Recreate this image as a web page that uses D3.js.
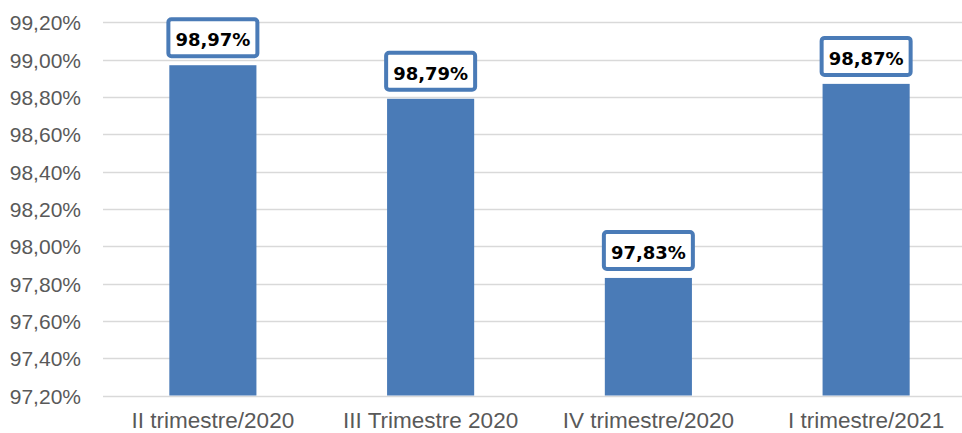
<!DOCTYPE html>
<html>
<head>
<meta charset="utf-8">
<script src="https://cdn.jsdelivr.net/npm/d3@7"></script>
<style>
  html, body { margin: 0; padding: 0; background: #fff; }
  svg { display: block; }
</style>
</head>
<body>
<svg id="chart" width="962" height="433"></svg>
<script>
// Quarterly percentages
const categories = ["II trimestre/2020", "III Trimestre 2020", "IV trimestre/2020", "I trimestre/2021"];
const values = [98.97, 98.79, 97.83, 98.87];
const yTicks = [97.2, 97.4, 97.6, 97.8, 98.0, 98.2, 98.4, 98.6, 98.8, 99.0, 99.2];

const W = 962, H = 433;
const margin = { left: 104, right: -13, top: 22, bottom: 37 };
const barColor = "#4a7bb7";
const textGray = "#595959";

const fmt = v => v.toFixed(2).replace(".", ",") + "%";

const svg = d3.select("#chart");

const x = d3.scaleBand()
  .domain(categories)
  .range([margin.left, W - margin.right])
  .paddingInner(0.6)
  .paddingOuter(0.3);

const y = d3.scaleLinear()
  .domain([97.2, 99.2])
  .range([H - margin.bottom - 0.5, margin.top + 0.3]);

// Horizontal gridlines
svg.append("g")
  .selectAll("line")
  .data(yTicks)
  .join("line")
  .attr("x1", 103)
  .attr("x2", W)
  .attr("y1", d => Math.round(y(d)) + 0.5)
  .attr("y2", d => Math.round(y(d)) + 0.5)
  .attr("stroke", "#d9d9d9")
  .attr("stroke-width", 1.3);

// Y axis labels
const yAxis = d3.axisLeft(y).tickValues(yTicks).tickFormat(fmt).tickSize(0).tickPadding(0);
svg.append("g")
  .attr("transform", "translate(81,0)")
  .call(yAxis)
  .call(g => g.select(".domain").remove())
  .call(g => g.selectAll("text")
    .attr("fill", textGray)
    .attr("font-family", "'Liberation Sans', Arial, sans-serif")
    .attr("font-size", "21px")
    .attr("dy", "0.36em"));

// Bars
svg.append("g")
  .selectAll("rect")
  .data(values)
  .join("rect")
  .attr("x", (d, i) => x(categories[i]))
  .attr("width", x.bandwidth())
  .attr("y", d => y(d))
  .attr("height", d => y(97.2) - y(d))
  .attr("fill", barColor);

// X axis labels
const xAxis = d3.axisBottom(x).tickSize(0).tickPadding(0);
svg.append("g")
  .attr("transform", `translate(0,${H - 5})`)
  .call(xAxis)
  .call(g => g.select(".domain").remove())
  .call(g => g.selectAll("text")
    .attr("fill", textGray)
    .attr("font-family", "'Liberation Sans', Arial, sans-serif")
    .attr("font-size", "22.5px")
    .attr("dy", "0"));

// Value labels in outlined boxes
const labels = svg.append("g")
  .selectAll("g")
  .data(values)
  .join("g")
  .attr("transform", (d, i) => `translate(${x(categories[i]) + x.bandwidth() / 2},${y(d)})`);

labels.append("rect")
  .attr("x", -44.5)
  .attr("y", -46)
  .attr("width", 89)
  .attr("height", 37)
  .attr("rx", 3)
  .attr("fill", "#fff")
  .attr("stroke", barColor)
  .attr("stroke-width", 4);

labels.append("text")
  .attr("text-anchor", "middle")
  .attr("y", -19)
  .attr("font-family", "'DejaVu Sans', sans-serif")
  .attr("font-weight", "bold")
  .attr("font-size", "18px")
  .attr("fill", "#000")
  .text(d => fmt(d));
</script>
</body>
</html>
